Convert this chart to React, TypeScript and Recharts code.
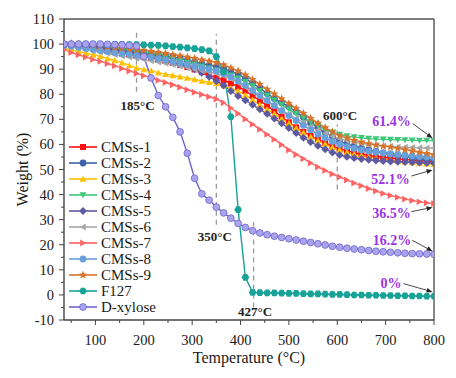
import React from 'react';
import {Label, Legend, Line, LineChart, ReferenceDot, ReferenceLine, XAxis, YAxis} from 'recharts';

// temperature grid (°C), 15 degree steps
const temps = [
    35, 50, 65, 80, 95, 110, 125, 140, 155, 170, 185, 200, 215,
    230, 245, 260, 275, 290, 305, 320, 335, 350, 365, 380, 395, 410,
    425, 440, 455, 470, 485, 500, 515, 530, 545, 560, 575, 590, 605,
    620, 635, 650, 665, 680, 695, 710, 725, 740, 755, 770, 785, 800,
];

const cms1 = [
    100, 99.6, 99.2, 98.8, 98.3, 97.8, 97.3, 96.8, 96.3, 95.9, 95.5, 95, 94.5,
    93.8, 93.2, 92.5, 91.7, 90.8, 89.9, 88.8, 87.7, 86.6, 85.6, 84.3, 83, 81.4,
    79.4, 77.4, 75.4, 73.3, 71, 68.8, 66.8, 65, 63.4, 62, 60.6, 59.3, 58.2,
    57.4, 56.7, 56.1, 55.6, 55.2, 54.9, 54.6, 54.3, 54, 53.8, 53.6, 53.4, 53.2,
];
const cms2 = [
    100, 99.8, 99.5, 99.3, 99.1, 98.8, 98.5, 98.1, 97.8, 97.4, 97, 96.6, 96.2,
    95.7, 95.3, 94.8, 94.3, 93.6, 92.9, 92.2, 91.6, 91, 90.1, 89.1, 87.9, 86.3,
    84.4, 82.4, 80.3, 78.3, 76.6, 75, 73, 70.8, 68.7, 66.6, 64.8, 63.1, 61.2,
    60.2, 59.3, 58.5, 57.8, 57.2, 56.6, 56.1, 55.6, 55.2, 54.8, 54.4, 54.1, 53.8,
];
const cms3 = [
    98.5, 97.8, 97.1, 96.4, 95.8, 95.1, 94.3, 93.5, 92.6, 91.5, 90.5, 89.9, 89.4,
    88.6, 88, 87.5, 87, 86.5, 85.9, 85.3, 84.8, 84.3, 83.5, 82.4, 81.3, 79.7,
    77.8, 75.8, 74, 72.2, 70.3, 68.5, 66.6, 64.8, 63.1, 61.6, 60.2, 58.9, 57.8,
    56.9, 56.2, 55.6, 55, 54.5, 54.1, 53.7, 53.4, 53.1, 52.8, 52.5, 52.3, 52.1,
];
const cms4 = [
    100, 99.7, 99.3, 99, 98.7, 98.3, 97.9, 97.5, 97.1, 96.8, 96.5, 96.1, 95.7,
    95.2, 94.6, 94, 93.3, 92.6, 91.9, 91.1, 90.3, 89.5, 88.6, 87.6, 86.4, 85,
    83.3, 81.4, 79.5, 77.6, 75.8, 74, 72.2, 70.5, 68.9, 67.4, 66, 64.8, 63.9,
    63.3, 62.9, 62.6, 62.3, 62.1, 62, 61.9, 61.8, 61.7, 61.6, 61.5, 61.5, 61.4,
];
const cms5 = [
    100, 99.7, 99.4, 99, 98.6, 98.3, 97.9, 97.5, 97, 96.5, 96, 95.5, 94.9,
    94.3, 93.6, 93, 92.2, 91.2, 90, 88.6, 87, 85.3, 83.5, 81.3, 79.3, 77.6,
    75.8, 74, 72.2, 70.3, 68.4, 66.5, 64.6, 62.7, 61, 59.5, 58.1, 56.8, 55.8,
    55.1, 54.6, 54.2, 53.9, 53.6, 53.4, 53.2, 53.1, 53, 52.9, 52.8, 52.7, 52.6,
];
const cms6 = [
    99.5, 99, 98.5, 98, 97.3, 96.8, 96.3, 95.7, 95.2, 94.8, 94.3, 93.8, 93.3,
    92.8, 92.3, 91.8, 91.2, 90.6, 90, 89.4, 88.9, 88.3, 87.4, 86.2, 84.6, 82.8,
    80.9, 79, 77.2, 75.4, 73.6, 72, 70.3, 68.7, 67.2, 65.8, 64.5, 63.3, 62.3,
    61.5, 60.9, 60.4, 60, 59.7, 59.4, 59.2, 59, 58.9, 58.8, 58.7, 58.6, 58.5,
];
const cms7 = [
    97.8, 96.6, 95.7, 94.8, 93.9, 93.1, 92.2, 91.3, 90.3, 89.3, 88.3, 87.4, 86.5,
    85.6, 84.7, 83.8, 82.8, 81.8, 80.8, 79.9, 79, 78.1, 76.6, 74.5, 72.3, 70.1,
    68, 66, 64, 62, 59.9, 57.8, 56, 54.3, 52.6, 51, 49.6, 48.2, 47,
    45.8, 44.6, 43.5, 42.4, 41.4, 40.4, 39.6, 38.9, 38.2, 37.6, 37.1, 36.7, 36.4,
];
const cms8 = [
    99.5, 99.1, 98.7, 98.2, 97.8, 97.4, 97, 96.6, 96.2, 95.9, 95.5, 95.1, 94.7,
    94.2, 93.6, 93, 92.4, 91.8, 91.2, 90.5, 89.9, 89.3, 88.2, 86.9, 85.3, 83.5,
    81.5, 79.5, 77.5, 75.5, 73.5, 71.5, 69.5, 67.6, 65.8, 64.1, 62.6, 61.2, 60,
    59.1, 58.4, 57.8, 57.3, 56.9, 56.6, 56.3, 56, 55.7, 55.4, 55.2, 55, 54.8,
];
const cms9 = [
    100.5, 100.3, 100.1, 99.9, 99.6, 99.3, 99, 98.7, 98.4, 98.1, 97.8, 97.5, 97.1,
    96.7, 96.3, 95.8, 95.3, 94.8, 94.3, 93.7, 93.2, 92.6, 91.7, 90.5, 89.3, 87.7,
    85.9, 84, 82, 80.1, 78.2, 76.3, 74.4, 72.4, 70.4, 68.5, 66.7, 65, 63.5,
    62.5, 61.6, 60.9, 60.3, 59.8, 59.3, 58.9, 58.4, 57.9, 57.4, 56.9, 56.4, 56,
];
const f127 = [
    100, 100, 100, 100, 100, 100, 99.9, 99.9, 99.9, 99.8, 99.8, 99.7, 99.6,
    99.5, 99.3, 99, 98.8, 98.5, 98.2, 97.8, 97.3, 95, 89, 71, 34, 7,
    1, 0.9, 0.8, 0.8, 0.7, 0.6, 0.6, 0.5, 0.4, 0.4, 0.3, 0.2, 0.2,
    0.1, 0, 0, -0.1, -0.1, -0.2, -0.2, -0.3, -0.3, -0.4, -0.4, -0.5, -0.5,
];
const dXylose = [
    100, 100, 100, 100, 100, 100, 99.9, 99.8, 99.7, 99.5, 99.2, 95, 86.5,
    79.5, 75, 70.8, 65, 56.5, 46.5, 40.3, 37.8, 35, 32.7, 30.6, 28.5, 26.9,
    25.6, 24.7, 24, 23.4, 22.9, 22.4, 21.9, 21.4, 20.9, 20.4, 19.9, 19.4, 19,
    18.6, 18.3, 18, 17.7, 17.4, 17.2, 17, 16.8, 16.6, 16.5, 16.4, 16.3, 16.2,
];

const xTicks = [50, 100, 150, 200, 250, 300, 350, 400, 450, 500, 550, 600, 650, 700, 750, 800];
const yTicks = [-10, -5, 0, 5, 10, 15, 20, 25, 30, 35, 40, 45, 50, 55, 60, 65, 70, 75, 80, 85, 90, 95, 100, 105, 110];

// onset marks and residue labels
const onsetLabels = [
    {t: 187, w: 75.4, text: '185°C'},
    {t: 347, w: 23.5, text: '350°C'},
    {t: 430, w: -6.4, text: '427°C'},
    {t: 606, w: 71.6, text: '600°C'},
];
const dashMarks = [
    {t: 185, from: 81, to: 105},
    {t: 350, from: 28, to: 104},
    {t: 427, from: -5, to: 29},
    {t: 600, from: 42, to: 68},
];
const residueLabels = [
    {t: 712, w: 69.4, text: '61.4%', arrow: [[756, 68.3], [797, 62.5]]},
    {t: 710, w: 46.1, text: '52.1%', arrow: [[753, 47.4], [797, 49.8]]},
    {t: 712, w: 32.8, text: '36.5%', arrow: [[753, 33.2], [797, 34.9]]},
    {t: 713, w: 21.8, text: '16.2%', arrow: [[755, 21.8], [797, 17.4]]},
    {t: 711, w: 4.9, text: '0%', arrow: [[737, 4.5], [797, 1.2]]},
];

type Shape = 'square' | 'circle' | 'up' | 'down' | 'diamond' | 'left' | 'right' | 'star' | 'hex';

interface Series {
    key: string
    name: string
    values: number[]
    color: string
    shape: Shape
    fill?: string
}

const series: Series[] = [
    {key: 'cms1', name: 'CMSs-1', values: cms1, color: '#ff1010', shape: 'square'},
    {key: 'cms2', name: 'CMSs-2', values: cms2, color: '#3e63a8', shape: 'circle'},
    {key: 'cms3', name: 'CMSs-3', values: cms3, color: '#ffc000', shape: 'up'},
    {key: 'cms4', name: 'CMSs-4', values: cms4, color: '#3ec77a', shape: 'down'},
    {key: 'cms5', name: 'CMSs-5', values: cms5, color: '#5e5aa2', shape: 'diamond'},
    {key: 'cms6', name: 'CMSs-6', values: cms6, color: '#a8a8a8', shape: 'left'},
    {key: 'cms7', name: 'CMSs-7', values: cms7, color: '#ff6464', shape: 'right'},
    {key: 'cms8', name: 'CMSs-8', values: cms8, color: '#68a0da', shape: 'circle'},
    {key: 'cms9', name: 'CMSs-9', values: cms9, color: '#d8742a', shape: 'star'},
    {key: 'f127', name: 'F127', values: f127, color: '#17a398', shape: 'hex'},
    {key: 'xyl', name: 'D-xylose', values: dXylose, color: '#6f66cc', shape: 'circle', fill: '#aaa4ee'},
];

const data = temps.map((t, i) => {
    const row: Record<string, number> = {t};
    series.forEach(s => {
        row[s.key] = s.values[i];
    });
    return row;
});

const FONT = '"Liberation Serif", "DejaVu Serif", serif';
const TICK_SIZE = 5;
const X_MARGIN = 9;
const Y_MARGIN = 5;

const polar = (cx: number, cy: number, r: number, n: number, rot: number, inner?: number) => {
    const pts: string[] = [];
    const count = inner ? n * 2 : n;
    for (let k = 0; k < count; k++) {
        const a = rot + (k * Math.PI * 2) / count;
        const rr = inner && k % 2 === 1 ? inner : r;
        pts.push(`${cx + rr * Math.cos(a)},${cy + rr * Math.sin(a)}`);
    }
    return pts.join(' ');
};

const Marker = ({cx, cy, shape, color, fill}: {cx: number, cy: number, shape: Shape, color: string, fill?: string}) => {
    const r = 3.4;
    switch (shape) {
        case 'square':
            return <rect x={cx - 3} y={cy - 3} width={6} height={6} fill={color}/>;
        case 'circle':
            return <circle cx={cx} cy={cy} r={r} fill={fill || color} stroke={color} strokeWidth={fill ? 0.8 : 0}/>;
        case 'up':
            return <polygon points={polar(cx, cy + 0.8, 4, 3, -Math.PI / 2)} fill={color}/>;
        case 'down':
            return <polygon points={polar(cx, cy - 0.8, 4, 3, Math.PI / 2)} fill={color}/>;
        case 'left':
            return <polygon points={polar(cx + 0.8, cy, 4, 3, Math.PI)} fill={color}/>;
        case 'right':
            return <polygon points={polar(cx - 0.8, cy, 4, 3, 0)} fill={color}/>;
        case 'diamond':
            return <polygon points={polar(cx, cy, 4, 4, 0)} fill={color}/>;
        case 'star':
            return <polygon points={polar(cx, cy, 4.4, 5, -Math.PI / 2, 1.9)} fill={color}/>;
        case 'hex':
            return <polygon points={polar(cx, cy, 3.8, 6, 0)} fill={color}/>;
    }
    return null;
};

const XTick = (p: any) => {
    const v = p.payload.value;
    const major = v % 100 === 0;
    const axisY = p.y - TICK_SIZE - X_MARGIN;
    return (
        <g>
            <line x1={p.x} x2={p.x} y1={axisY} y2={axisY + (major ? 5 : 3)} stroke="#444" strokeWidth={1}/>
            {major && (
                <text x={p.x} y={p.y} dy="0.75em" textAnchor="middle" fontFamily={FONT} fontSize={14.5} fill="#1a1a1a">{v}</text>
            )}
        </g>
    );
};

const YTick = (p: any) => {
    const v = p.payload.value;
    const major = v % 10 === 0;
    const axisX = p.x + TICK_SIZE + Y_MARGIN;
    return (
        <g>
            <line x1={axisX} x2={axisX - (major ? 5 : 3)} y1={p.y} y2={p.y} stroke="#444" strokeWidth={1}/>
            {major && (
                <text x={p.x} y={p.y} dy="0.35em" textAnchor="end" fontFamily={FONT} fontSize={14.5} fill="#1a1a1a">{v}</text>
            )}
        </g>
    );
};

const XTitle = (p: any) => {
    const vb = p.viewBox || {x: 64, y: 320, width: 370, height: 30};
    return (
        <text x={vb.x + vb.width / 2} y={vb.y + 43} textAnchor="middle" fontFamily={FONT} fontSize={16} fill="#1a1a1a">
            Temperature (°C)
        </text>
    );
};

const YTitle = (p: any) => {
    const vb = p.viewBox || {x: 14, y: 19, width: 50, height: 301};
    const x = vb.x + 8;
    const y = vb.y + vb.height / 2;
    return (
        <text x={x} y={y} transform={`rotate(-90, ${x}, ${y})`} textAnchor="middle" dominantBaseline="central"
              fontFamily={FONT} fontSize={16} fill="#1a1a1a">
            Weight (%)
        </text>
    );
};

const Arrow = (p: any) => {
    const {x1, y1, x2, y2} = p;
    const ang = Math.atan2(y2 - y1, x2 - x1);
    const len = 6;
    const half = 2.4;
    const bx = x2 - len * Math.cos(ang);
    const by = y2 - len * Math.sin(ang);
    const pts = `${x2},${y2} ${bx - half * Math.sin(ang)},${by + half * Math.cos(ang)} ${bx + half * Math.sin(ang)},${by - half * Math.cos(ang)}`;
    return (
        <g>
            <line x1={x1} y1={y1} x2={bx} y2={by} stroke="#333" strokeWidth={0.9}/>
            <polygon points={pts} fill="#222"/>
        </g>
    );
};

const LegendBox = () => (
    <div style={{fontFamily: FONT, fontSize: 15, color: '#1a1a1a', lineHeight: '16px'}}>
        {series.map(s => (
            <div key={s.key} style={{display: 'flex', alignItems: 'center', height: 16}}>
                <svg width={30} height={12}>
                    <line x1={1} x2={29} y1={6} y2={6} stroke={s.color} strokeWidth={1.6}/>
                    <Marker cx={15} cy={6} shape={s.shape} color={s.color} fill={s.fill}/>
                </svg>
                <span style={{marginLeft: 3}}>{s.name}</span>
            </div>
        ))}
    </div>
);

const App = () => {
    return (
        <div style={{position: 'absolute', left: 0, top: 0, background: '#fff'}}>
            <LineChart width={456} height={378} data={data} margin={{top: 19, right: 22, bottom: 28, left: 14}}>
                <XAxis dataKey="t" type="number" domain={[35, 800]} ticks={xTicks} interval={0} allowDataOverflow
                       height={30} tickSize={TICK_SIZE} tickMargin={X_MARGIN} tickLine={false} tick={XTick}
                       axisLine={{stroke: '#444', strokeWidth: 1.4}}>
                    <Label content={XTitle}/>
                </XAxis>
                <YAxis type="number" domain={[-10, 110]} ticks={yTicks} interval={0} allowDataOverflow
                       width={50} tickSize={TICK_SIZE} tickMargin={Y_MARGIN} tickLine={false} tick={YTick}
                       axisLine={{stroke: '#444', strokeWidth: 1.4}}>
                    <Label content={YTitle}/>
                </YAxis>
                <ReferenceLine y={110} stroke="#555" strokeWidth={1.4}/>
                <ReferenceLine x={800} stroke="#555" strokeWidth={1.4}/>
                {dashMarks.map(d => (
                    <ReferenceLine key={`dash-${d.t}`} segment={[{x: d.t, y: d.from}, {x: d.t, y: d.to}]}
                                   stroke="#9a9a9a" strokeWidth={1.3} strokeDasharray="5 4"/>
                ))}
                {series.map(s => (
                    <Line key={s.key} dataKey={s.key} name={s.name} type="linear" stroke={s.color} strokeWidth={1.4}
                          isAnimationActive={false} activeDot={false}
                          dot={(p: any) => (
                              <Marker key={`${s.key}-${p.index}`} cx={p.cx} cy={p.cy} shape={s.shape}
                                      color={s.color} fill={s.fill}/>
                          )}/>
                ))}
                {onsetLabels.map(l => (
                    <ReferenceDot key={l.text} x={l.t} y={l.w} r={0}
                                  shape={(p: any) => (
                                      <text x={p.cx} y={p.cy} dy="0.35em" textAnchor="middle" fontFamily={FONT}
                                            fontSize={13} fontWeight="bold" fill="#222">{l.text}</text>
                                  )}/>
                ))}
                {residueLabels.map(l => (
                    <ReferenceLine key={`arrow-${l.text}`}
                                   segment={[{x: l.arrow[0][0], y: l.arrow[0][1]}, {x: l.arrow[1][0], y: l.arrow[1][1]}]}
                                   shape={Arrow}/>
                ))}
                {residueLabels.map(l => (
                    <ReferenceDot key={l.text} x={l.t} y={l.w} r={0}
                                  shape={(p: any) => (
                                      <text x={p.cx} y={p.cy} dy="0.35em" textAnchor="middle" fontFamily={FONT}
                                            fontSize={14} fontWeight="bold" fill="#9933e6">{l.text}</text>
                                  )}/>
                ))}
                <Legend layout="horizontal" verticalAlign="middle" align="center" content={LegendBox}
                        wrapperStyle={{left: 68, top: 139, width: 'auto'}}/>
            </LineChart>
        </div>
    );
};

export default App;
